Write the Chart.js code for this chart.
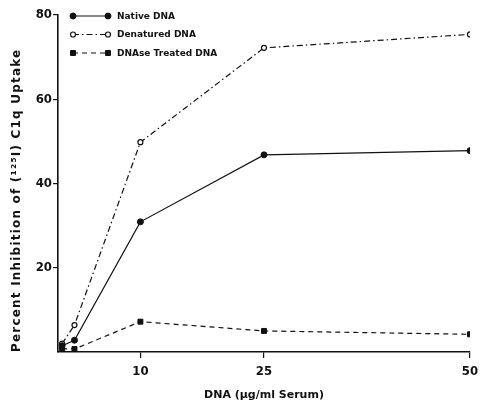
<!DOCTYPE html>
<html><head><meta charset="utf-8">
<script src="https://cdn.jsdelivr.net/npm/chart.js@4/dist/chart.umd.min.js"></script>
<style>html,body{margin:0;padding:0;background:#fff}canvas{display:block}</style>
</head><body>
<canvas id="c" width="480" height="404"></canvas>
<script>
// ---- data ----
const dnaDose = [0.5, 2, 10, 25, 50];                 // µg/ml serum
const nativeDNA = [1.5, 2.8, 30.9, 46.8, 47.8];
const denaturedDNA = [2.0, 6.4, 49.8, 72.2, 75.4];
const dnaseTreatedDNA = [0.8, 0.7, 7.2, 5.0, 4.2];
const xTickValues = [10, 25, 50];
const yTickValues = [20, 40, 60, 80];
const seriesNames = ['Native DNA', 'Denatured DNA', 'DNAse Treated DNA'];

const pts = ys => dnaDose.map((x, i) => ({x, y: ys[i]}));
const INK = '#111';

const legendPlugin = {
  id: 'figLegend',
  beforeDraw(chart) {
    // spaced-out lettering for the vertical axis title, as in the figure
    const ys = chart.scales.y;
    if (ys && !ys._spacedTitle) {
      const orig = ys.drawTitle.bind(ys);
      ys.drawTitle = function () {
        const prev = this.ctx.letterSpacing;
        this.ctx.letterSpacing = '1.2px';
        orig();
        this.ctx.letterSpacing = prev || '0px';
      };
      ys._spacedTitle = true;
    }
  },
  afterDraw(chart) {
    const ctx = chart.ctx;
    const rows = [16, 34.5, 53];
    const x0 = 73, x1 = 108, tx = 117;
    chart.data.datasets.forEach((ds, i) => {
      const y = rows[i];
      ctx.save();
      ctx.strokeStyle = INK;
      ctx.lineWidth = ds.borderWidth;
      ctx.setLineDash(ds.borderDash || []);
      ctx.beginPath(); ctx.moveTo(x0, y); ctx.lineTo(x1, y); ctx.stroke();
      ctx.setLineDash([]);
      const opt = {pointStyle: ds.pointStyle, radius: ds.pointRadius, rotation: 0, borderWidth: ds.pointBorderWidth};
      ctx.fillStyle = ds.pointBackgroundColor; ctx.strokeStyle = INK; ctx.lineWidth = ds.pointBorderWidth;
      Chart.helpers.drawPoint(ctx, opt, x0, y);
      Chart.helpers.drawPoint(ctx, opt, x1, y);
      ctx.fillStyle = INK;
      ctx.font = 'bold 9px "DejaVu Sans"';
      ctx.textBaseline = 'middle';
      ctx.fillText(ds.label, tx, y + 0.5);
      ctx.restore();
    });
  }
};

new Chart(document.getElementById('c'), {
  type: 'line',
  data: {
    datasets: [
      {label: seriesNames[0], data: pts(nativeDNA), borderColor: INK, borderWidth: 1.2,
       pointStyle: 'circle', pointRadius: 3, pointBackgroundColor: INK, pointBorderColor: INK, pointBorderWidth: 1},
      {label: seriesNames[1], data: pts(denaturedDNA), borderColor: INK, borderWidth: 1.2, borderDash: [6, 3, 1.5, 3],
       pointStyle: 'circle', pointRadius: 2.5, pointBackgroundColor: '#fff', pointBorderColor: INK, pointBorderWidth: 1.2},
      {label: seriesNames[2], data: pts(dnaseTreatedDNA), borderColor: INK, borderWidth: 1.2, borderDash: [5, 4],
       pointStyle: 'rect', pointRadius: 3.5, pointBackgroundColor: INK, pointBorderColor: INK, pointBorderWidth: 1}
    ]
  },
  options: {
    responsive: false,
    animation: false,
    devicePixelRatio: 1,
    layout: {padding: {top: 15, right: 10, left: 0, bottom: 0}},
    plugins: {legend: {display: false}, tooltip: {enabled: false}},
    elements: {line: {tension: 0}},
    scales: {
      x: {
        type: 'linear', min: 0, max: 50,
        afterBuildTicks: s => { s.ticks = xTickValues.map(v => ({value: v})); },
        afterFit: s => { s.height = 52; s.paddingRight = 8; },
        grid: {drawOnChartArea: false, drawTicks: true, tickLength: 6, color: INK, lineWidth: 1.2},
        border: {display: true, color: INK, width: 1.6},
        ticks: {color: INK, padding: 6, maxRotation: 0,
                font: {family: '"DejaVu Sans Condensed", "DejaVu Sans"', weight: 'bold', size: 13}},
        title: {display: true, text: 'DNA (µg/ml Serum)', color: INK, padding: {top: 0, bottom: 2},
                font: {family: '"DejaVu Sans"', weight: 'bold', size: 11}}
      },
      y: {
        type: 'linear', min: 0, max: 80,
        afterBuildTicks: s => { s.ticks = yTickValues.map(v => ({value: v})); },
        afterFit: s => { s.width = 58; },
        grid: {drawOnChartArea: false, drawTicks: true, tickLength: 5, color: INK, lineWidth: 1.2},
        border: {display: true, color: INK, width: 1.6},
        ticks: {color: INK, padding: 1,
                font: {family: '"DejaVu Sans Condensed", "DejaVu Sans"', weight: 'bold', size: 13}},
        title: {display: true, text: 'Percent Inhibition of (¹²⁵I) C1q Uptake', color: INK, align: 'start',
                padding: {top: 10, bottom: 0},
                font: {family: '"DejaVu Sans"', weight: 'bold', size: 12}}
      }
    }
  },
  plugins: [legendPlugin]
});
</script>
</body></html>
